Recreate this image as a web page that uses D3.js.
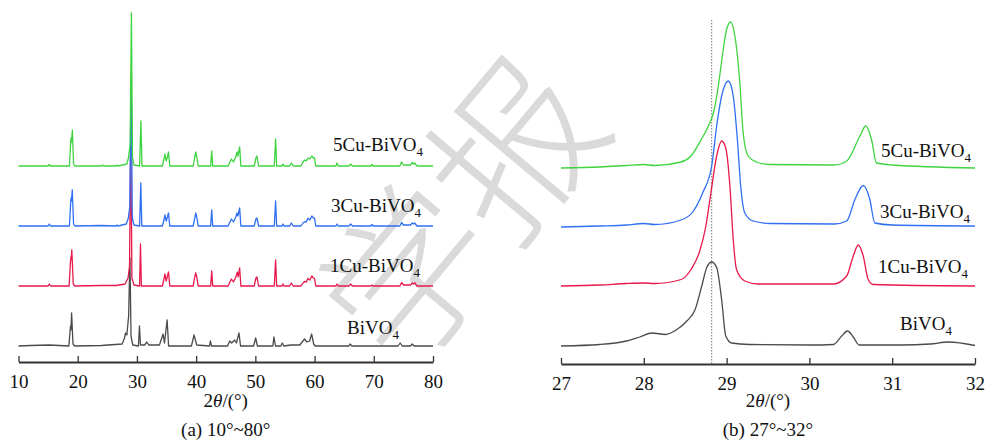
<!DOCTYPE html>
<html>
<head>
<meta charset="utf-8">
<script src="https://cdn.jsdelivr.net/npm/d3@7"></script>
<style>
  body { margin: 0; background: #fff; }
  svg { display: block; }
  text { font-family: "Liberation Serif", "Times New Roman", Times, serif; fill: #111; }
</style>
</head>
<body>
<svg id="chart" width="988" height="443"></svg>
<script>
// ---- data ----
const samples = ["BiVO4", "1Cu-BiVO4", "3Cu-BiVO4", "5Cu-BiVO4"];
const colors = ["#4b4b4b", "#e8194b", "#2f6ff2", "#3fd43f"];
const offsetsA = [16, 76, 136, 196];   // vertical stacking, panel (a)
const offsetsB = [18, 78, 137, 196];   // vertical stacking, panel (b)
const ticksA = [10, 20, 30, 40, 50, 60, 70, 80];
const ticksB = [27, 28, 29, 30, 31, 32];
const refAngle = 28.82;               // dotted reference line in (b)

// panel (a) 10-80 deg, [2theta, intensity a.u.]
const fullBiVO4 = [[10,0],[12,0.5],[15.2,1],[18.5,0],[18.7,14],[18.78,20],[18.85,16],[18.97,33],[19.2,2],[19.5,0],[24,0.5],[27.5,2],[27.9,8],[28.08,13],[28.3,11],[28.6,30],[28.82,88],[29.0,10],[29.3,1],[30.25,0],[30.43,20],[30.6,1],[31.3,1],[31.67,4],[32.0,1],[33.8,1],[34.42,12],[34.65,3],[35.1,26],[35.35,0],[39.2,0],[39.65,11],[40.1,1],[42.25,0],[42.4,5],[42.6,0],[45.3,0],[45.67,5],[46.0,3],[46.5,6],[46.8,3],[47.24,13],[47.5,0],[49.7,0],[50.05,8],[50.35,0],[52.95,0],[53.14,9],[53.4,0],[54.3,0],[54.55,3],[54.8,0],[56,1],[57.5,1],[58.3,7],[58.7,4],[59.16,5],[59.5,12],[59.85,2],[60.1,0],[65.8,0],[66.0,2],[66.3,0],[74.1,0],[74.45,3],[74.8,0],[76.2,0],[76.5,2],[76.8,0],[80,0]];
const full1Cu = [[10,0],[15.0,0],[15.2,2],[15.4,0],[18.55,0],[18.75,22],[18.85,29],[18.92,27],[19.0,36],[19.25,2],[19.5,0],[24,0.5],[26.5,0.5],[28.0,2],[28.5,8],[28.75,20],[28.96,152],[29.15,8],[29.5,1],[30.45,0],[30.6,42],[30.75,0],[34.3,0],[34.6,8],[34.71,12],[34.95,5],[35.15,10],[35.33,14],[35.55,0],[39.5,0],[39.8,10],[39.93,13],[40.1,9],[40.35,0],[42.45,0],[42.63,15],[42.8,0],[45.4,0],[45.95,7],[46.3,4],[46.7,9],[46.96,14],[47.1,9],[47.35,18],[47.55,0],[49.8,0],[50.1,8],[50.27,9],[50.55,0],[53.2,0],[53.42,26],[53.6,0],[54.5,0],[54.66,2],[54.85,0],[55.8,0],[56.07,3],[56.4,0],[57.7,0],[58.05,3],[58.3,4.5],[58.6,4],[58.87,7.5],[59.2,6],[59.54,10],[59.8,8],[60.0,7.5],[60.2,0],[63.6,0],[63.8,2],[64,0],[65.8,0],[66.1,2],[66.4,0],[69.5,0],[69.7,1],[69.9,0],[74.4,0],[74.7,3.5],[75,1],[76.2,1],[76.5,3],[76.7,2],[76.9,3.3],[77.3,0],[80,0]];
const full3Cu = [[10,0],[15.0,0],[15.2,2],[15.4,0],[18.6,0],[18.8,22],[18.88,28],[18.95,25],[19.08,36],[19.3,2],[19.5,0],[24,0.5],[26.5,0],[26.6,1],[26.8,0],[28.2,2],[28.55,8],[28.8,20],[29.02,150],[29.22,8],[29.5,1],[30.45,0],[30.65,43],[30.82,0],[34.3,0],[34.6,7],[34.72,11],[34.95,5],[35.15,9],[35.33,13],[35.55,0],[39.5,0],[39.8,9],[39.93,13],[40.1,9],[40.35,0],[42.45,0],[42.63,16],[42.8,0],[45.4,0],[45.95,7],[46.3,4],[46.7,9],[46.9,13],[47.05,10],[47.35,18],[47.55,0],[49.8,0],[50.1,7],[50.27,8],[50.55,0],[53.2,0],[53.42,25],[53.6,0],[54.5,0],[54.66,2],[54.85,0],[55.8,0],[56.07,3],[56.4,0],[57.7,0],[58.05,3],[58.3,4.3],[58.6,4],[58.87,7.7],[59.2,6],[59.54,10],[59.8,8],[60.0,7.7],[60.2,0],[63.6,0],[63.8,2],[64,0],[65.8,0],[66.1,2],[66.4,0],[69.5,0],[69.7,1.5],[69.9,0],[74.4,0],[74.7,3.5],[75,1],[76.2,1],[76.5,3],[76.7,2],[76.9,3],[77.3,0],[80,0]];
const full5Cu = [[10,0],[15.0,0],[15.2,1.5],[15.4,0],[18.6,0],[18.8,22],[18.88,28],[18.95,24],[19.1,36],[19.3,2],[19.5,0],[24,0],[24.2,1],[24.4,0],[26.5,0],[26.6,1],[26.8,0],[28.3,2],[28.6,9],[28.85,22],[29.07,153],[29.25,8],[29.5,1],[30.45,0],[30.67,45],[30.85,0],[34.3,0],[34.6,8],[34.72,12],[34.95,5],[35.15,9],[35.33,14],[35.55,0],[39.5,0],[39.8,10],[39.93,14],[40.1,9],[40.35,0],[42.45,0],[42.63,15],[42.8,0],[45.4,0],[45.95,7],[46.3,4],[46.7,9],[46.9,14],[47.05,10],[47.35,19],[47.55,0],[49.8,0],[50.1,8],[50.27,10],[50.55,0],[53.2,0],[53.42,27],[53.6,0],[54.5,0],[54.66,2],[54.85,0],[55.8,0],[56.07,3],[56.4,0],[57.7,0],[58.05,4],[58.3,6],[58.6,5],[58.87,8],[59.2,7],[59.54,10],[59.8,8],[60.0,8],[60.2,0],[63.6,0],[63.8,3],[64,0],[65.8,0],[66.1,2],[66.4,0],[69.5,0],[69.7,1.5],[69.9,0],[74.4,0],[74.7,4],[75,1],[76.2,1],[76.5,3.5],[76.7,2],[76.9,3],[77.3,0],[80,0]];

// panel (b) 27-32 deg
const zoomBiVO4 = [[27.0,0],[27.47,1.5],[27.79,5],[27.95,9],[28.1,13],[28.26,11.5],[28.4,16.5],[28.52,25],[28.62,36.5],[28.7,60],[28.76,78.5],[28.82,84],[28.88,78.5],[28.94,46.5],[28.99,10],[29.06,3],[29.28,1.5],[30.0,1],[30.29,1.5],[30.39,10],[30.46,15],[30.53,9],[30.6,1],[31.1,1],[31.46,2],[31.68,4],[32,0.5]];
const zoom1Cu = [[27.0,0],[27.47,1],[27.79,2.5],[28.0,3],[28.13,2.5],[28.45,6.5],[28.57,16.5],[28.67,33.5],[28.75,60],[28.81,93],[28.88,130],[28.94,145],[28.99,138],[29.04,100],[29.08,46.5],[29.12,16.5],[29.22,5],[29.38,2],[30.29,2],[30.45,10],[30.53,30],[30.59,41],[30.65,30],[30.71,6.5],[30.77,1.5],[32,0]];
const zoom3Cu = [[27,0],[27.47,1],[27.79,2],[28.0,3.5],[28.13,2.5],[28.45,7],[28.6,16],[28.71,34],[28.82,61],[28.88,101],[28.94,131],[29.02,146],[29.08,131],[29.13,87.5],[29.17,41],[29.22,14],[29.32,6],[29.52,3.5],[30.3,3],[30.45,6],[30.55,27.5],[30.65,41.5],[30.73,27.5],[30.79,4],[31.0,2],[32,1]];
const zoom5Cu = [[27,0],[27.47,1],[27.79,2.5],[28.0,3.5],[28.13,2.5],[28.45,6],[28.57,12],[28.69,28],[28.78,42],[28.85,58],[28.9,82],[28.95,113],[29.0,138.5],[29.05,146],[29.1,132],[29.16,85],[29.2,35],[29.26,12],[29.36,6],[29.52,3.5],[30.3,3],[30.45,7],[30.61,32],[30.68,42],[30.75,28.5],[30.81,5],[31.0,3],[32,0]];

const fullData = [fullBiVO4, full1Cu, full3Cu, full5Cu];
const zoomData = [zoomBiVO4, zoom1Cu, zoom3Cu, zoom5Cu];

// ---- drawing ----
const svg = d3.select("#chart");

// faint watermark behind everything
svg.append("text")
  .attr("transform", "translate(475,222) rotate(-50)")
  .attr("text-anchor", "middle")
  .attr("dominant-baseline", "middle")
  .style("font-family", "'Noto Sans CJK SC', sans-serif")
  .style("font-size", "165px")
  .style("font-weight", 300)
  .style("fill", "#dadada")
  .text("学报");

function label(g, x, y, name) {
  // "BiVO4" with subscript 4
  const t = g.append("text").attr("x", x).attr("y", y).style("font-size", "19px");
  t.append("tspan").text(name.slice(0, -1));
  t.append("tspan").attr("dy", 5).style("font-size", "13px").text(name.slice(-1));
}

function axisTitle(g, cx, y) {
  const t = g.append("text").attr("x", cx).attr("y", y)
    .attr("text-anchor", "middle").style("font-size", "19px");
  t.append("tspan").text("2");
  t.append("tspan").style("font-style", "italic").text("θ");
  t.append("tspan").text("/(°)");
}

function panel(opts) {
  const x = d3.scaleLinear().domain(opts.domain).range(opts.xRange);
  const y = d3.scaleLinear().domain([0, 350]).range([opts.axisY, opts.axisY - 350]);
  const g = svg.append("g");

  if (opts.refLine != null) {
    g.append("line")
      .attr("x1", x(opts.refLine)).attr("x2", x(opts.refLine))
      .attr("y1", 20).attr("y2", opts.axisY)
      .attr("stroke", "#777").attr("stroke-width", 1)
      .attr("stroke-dasharray", "1.5,1.5");
  }

  opts.data.forEach((series, i) => {
    const line = d3.line()
      .x(d => x(d[0]))
      .y(d => y(d[1] + opts.offsets[i]))
      .curve(opts.curve);
    g.append("path")
      .datum(series)
      .attr("fill", "none")
      .attr("stroke", colors[i])
      .attr("stroke-width", 1.3)
      .attr("stroke-linejoin", "round")
      .attr("d", line);
  });

  const axis = d3.axisBottom(x)
    .tickValues(opts.ticks)
    .tickFormat(d3.format("d"))
    .tickSizeInner(-6)
    .tickSizeOuter(0)
    .tickPadding(13);
  const ax = g.append("g")
    .attr("transform", `translate(0,${opts.axisY})`)
    .call(axis);
  ax.select(".domain").attr("stroke", "#333").attr("stroke-width", 1.8);
  ax.selectAll(".tick line").attr("stroke", "#333").attr("stroke-width", 1.3);
  ax.selectAll(".tick text")
    .style("font-family", "'Liberation Serif', 'Times New Roman', serif")
    .style("font-size", "19px")
    .attr("fill", "#111");

  const cx = (opts.xRange[0] + opts.xRange[1]) / 2;
  axisTitle(g, cx, 407);
  g.append("text").attr("x", cx).attr("y", 436)
    .attr("text-anchor", "middle").style("font-size", "19px")
    .text(opts.caption);

  opts.labels.forEach((p, i) => label(g, p[0], p[1], samples[i]));
}

panel({
  domain: [10, 80], xRange: [18.5, 433], axisY: 362,
  data: fullData, offsets: offsetsA, ticks: ticksA,
  curve: d3.curveLinear,
  caption: "(a) 10°~80°",
  labels: [[347, 334], [330, 272], [331, 212], [333, 151]]
});

panel({
  domain: [27, 32], xRange: [561, 975], axisY: 364,
  data: zoomData, offsets: offsetsB, ticks: ticksB,
  curve: d3.curveMonotoneX,
  refLine: refAngle,
  caption: "(b) 27°~32°",
  labels: [[900, 330], [878, 273], [880, 218], [881, 157]]
});
</script>
</body>
</html>
